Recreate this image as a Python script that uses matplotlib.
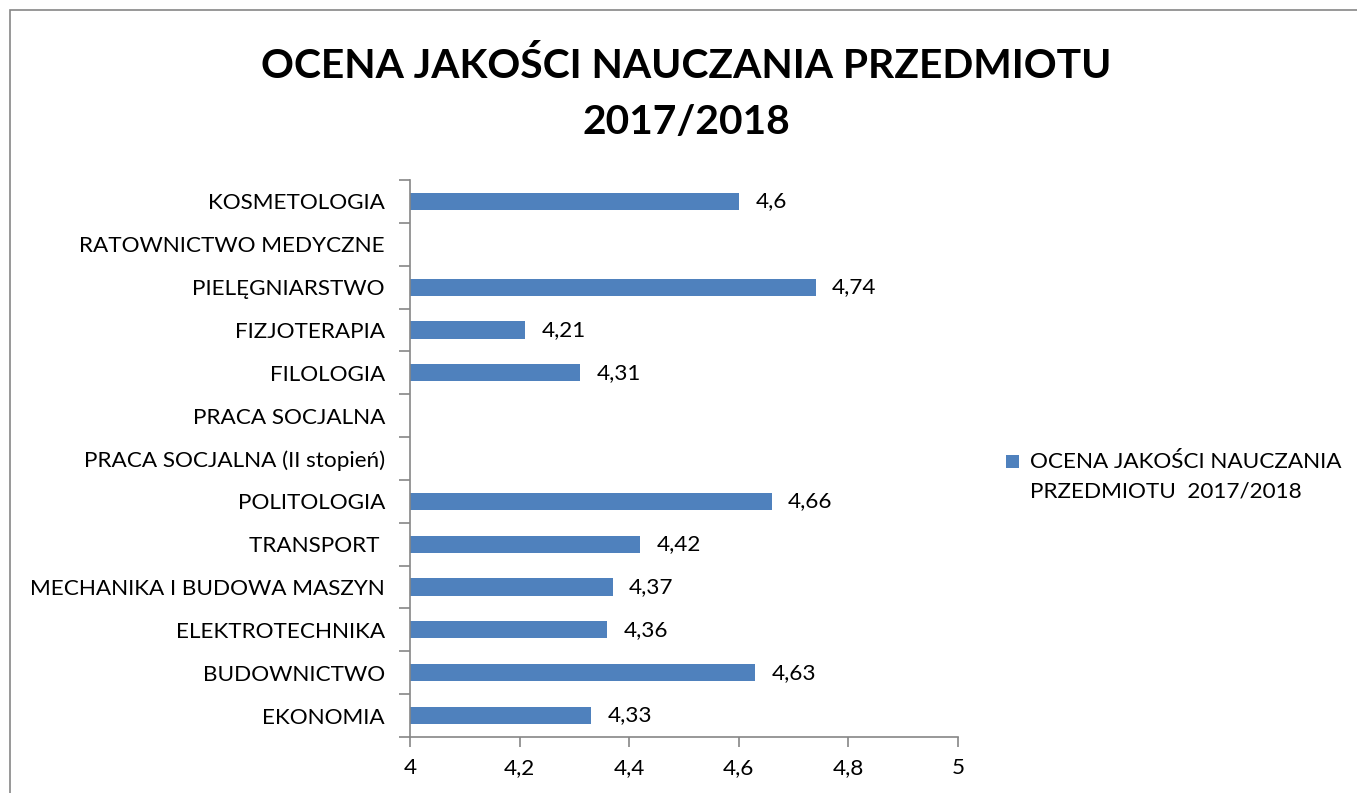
import numpy as np
import matplotlib.pyplot as plt
from matplotlib.patches import Rectangle

plt.rcParams['font.family'] = ['Lato', 'DejaVu Sans']

# Data (top to bottom as shown); None = no value
categories = ['KOSMETOLOGIA', 'RATOWNICTWO MEDYCZNE', 'PIELĘGNIARSTWO', 'FIZJOTERAPIA',
              'FILOLOGIA', 'PRACA SOCJALNA', 'PRACA SOCJALNA (II stopień)', 'POLITOLOGIA',
              'TRANSPORT ', 'MECHANIKA I BUDOWA MASZYN', 'ELEKTROTECHNIKA', 'BUDOWNICTWO',
              'EKONOMIA']
values = [4.6, None, 4.74, 4.21, 4.31, None, None, 4.66, 4.42, 4.37, 4.36, 4.63, 4.33]
x_ticks = [4, 4.2, 4.4, 4.6, 4.8, 5]
series_name = 'OCENA JAKOŚCI NAUCZANIA\nPRZEDMIOTU  2017/2018'

bar_color = '#4F81BD'
grey = '#868686'
fs = 16.2

fig = plt.figure(figsize=(13.57, 7.93), dpi=100)
W, H = 1357, 793
ax = fig.add_axes([410 / W, 1 - 737 / H, (958 - 410) / W, (737 - 180) / H])

# outer chart border
fig.patches.append(Rectangle((10 / W, -0.05), 1.1, 1 - 10 / H + 0.05, transform=fig.transFigure,
                             fill=False, edgecolor=grey, linewidth=1.2))

y = np.arange(len(categories))[::-1]
x0 = 4.0
for yi, v in zip(y, values):
    if v is None:
        continue
    ax.barh(yi, v - x0, left=x0, height=0.4, color=bar_color)
    ax.text(v + 0.03, yi, f'{v:g}'.replace('.', ','), va='center', ha='left', fontsize=fs)

ax.set_xlim(4, 5)
ax.set_ylim(-0.5, len(categories) - 0.5)
ax.set_xticks(x_ticks)
ax.set_xticklabels([f'{t:g}'.replace('.', ',') for t in x_ticks], fontsize=fs)
ax.set_yticks(y)
ax.set_yticklabels(categories, fontsize=fs)
ax.set_yticks(np.arange(-0.5, len(categories)), minor=True)
ax.tick_params(axis='y', which='major', length=0, pad=18)
ax.tick_params(axis='y', which='minor', length=8, color=grey, width=1.2, direction='out')
ax.tick_params(axis='x', length=7, color=grey, width=1.2, pad=8)

for s in ['top', 'right']:
    ax.spines[s].set_visible(False)
for s in ['left', 'bottom']:
    ax.spines[s].set_color(grey)
    ax.spines[s].set_linewidth(1.2)

fig.text(686 / W, 1 - 66 / H, 'OCENA JAKOŚCI NAUCZANIA PRZEDMIOTU', ha='center', va='center',
         fontsize=29.3, fontweight='bold')
fig.text(686 / W, 1 - 123 / H, '2017/2018', ha='center', va='center',
         fontsize=29.3, fontweight='bold')

# legend
fig.patches.append(Rectangle((1006 / W, 1 - 468 / H), 13 / W, 13 / H, transform=fig.transFigure,
                             facecolor=bar_color, edgecolor='none'))
fig.text(1030 / W, 1 - 477 / H, series_name, ha='left', va='center', fontsize=fs,
         linespacing=1.6)

fig.savefig('out.png', dpi=100)
